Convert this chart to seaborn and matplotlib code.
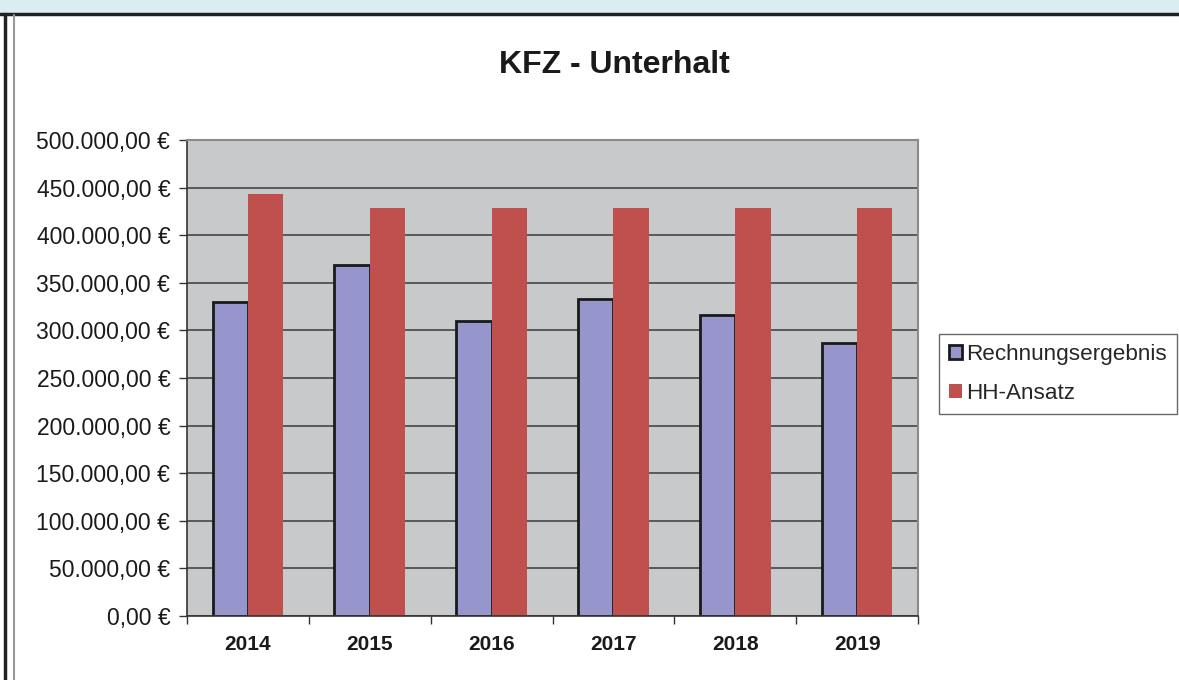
import pandas as pd
import numpy as np
import seaborn as sns
import matplotlib.pyplot as plt
from matplotlib.lines import Line2D
from matplotlib.patches import Rectangle, Patch
from matplotlib.ticker import FuncFormatter

# Data
years = ['2014', '2015', '2016', '2017', '2018', '2019']
rechnungsergebnis = [330000, 369000, 310000, 333000, 316000, 287000]
hh_ansatz = [443000, 428500, 428500, 428500, 428500, 428500]
series_names = ['Rechnungsergebnis', 'HH-Ansatz']

blue = '#9696CC'
red = '#C0504D'

df = pd.DataFrame({
    'Jahr': years * 2,
    'Wert': rechnungsergebnis + hh_ansatz,
    'Reihe': [series_names[0]] * len(years) + [series_names[1]] * len(years),
})

sns.set_style("white")
plt.rcParams['font.family'] = ['Liberation Sans', 'DejaVu Sans']

fig = plt.figure(figsize=(11.79, 6.8), dpi=100)

# Frame decoration (top band and left borders)
fig.patches.append(Rectangle((0, 1 - 13 / 680), 1, 13 / 680, transform=fig.transFigure,
                             facecolor='#DAEDF0', edgecolor='none', zorder=0))
fig.lines.append(Line2D([0, 1], [1 - 14 / 680, 1 - 14 / 680], transform=fig.transFigure,
                        color='#222222', linewidth=2.5))
fig.lines.append(Line2D([5 / 1179, 5 / 1179], [0, 1 - 14 / 680], transform=fig.transFigure,
                        color='#222222', linewidth=2.5))
fig.lines.append(Line2D([14 / 1179, 14 / 1179], [0, 1 - 15 / 680], transform=fig.transFigure,
                        color='#999999', linewidth=1.5))

ax = fig.add_axes([187 / 1179, 1 - 616 / 680, 731 / 1179, 476 / 680])
ax.set_facecolor('#C8C9CB')

sns.barplot(data=df, x='Jahr', y='Wert', hue='Reihe', palette=[blue, red],
            width=0.58, gap=0, ax=ax, legend=False, saturation=1)

# Blue bars get a black outline, red ones none
for bar in ax.containers[0]:
    bar.set_edgecolor('#1a1a1a')
    bar.set_linewidth(2)
for bar in ax.containers[1]:
    bar.set_edgecolor('none')

ax.set_ylim(0, 500000)
ax.set_xlim(-0.5, 5.5)
ax.set_yticks(np.arange(0, 500001, 50000))


def euro(v, pos):
    s = f"{v:,.2f}".replace(',', 'X').replace('.', ',').replace('X', '.')
    return s + " €"


ax.yaxis.set_major_formatter(FuncFormatter(euro))
ax.yaxis.grid(True, color='#3a3a3a', linewidth=1.1)
ax.set_axisbelow(True)

ax.tick_params(axis='y', which='major', left=True, length=6, width=1, color='#333333',
               direction='out', labelsize=16.5, pad=6, labelcolor='#1a1a1a')
ax.tick_params(axis='x', which='major', bottom=False, labelsize=15, pad=10)
for lbl in ax.get_xticklabels():
    lbl.set_fontweight('bold')
    lbl.set_color('#1a1a1a')

# tick marks between categories
ax.set_xticks(np.arange(-0.5, 6, 1), minor=True)
ax.tick_params(axis='x', which='minor', bottom=True, length=6, width=1, color='#333333',
               direction='out')

ax.set_xlabel('')
ax.set_ylabel('')

for side in ['left', 'bottom']:
    ax.spines[side].set_color('#333333')
    ax.spines[side].set_linewidth(1.2)
for side in ['top', 'right']:
    ax.spines[side].set_color('#8a8a8a')
    ax.spines[side].set_linewidth(1.5)

fig.text(614 / 1179, 1 - 65 / 680, 'KFZ - Unterhalt', ha='center', va='center',
         fontsize=23, fontweight='bold', color='#1a1a1a')

handles = [Patch(facecolor=blue, edgecolor='#1a1a1a', linewidth=2),
           Patch(facecolor=red, edgecolor='none')]
leg = fig.legend(handles, series_names, loc='center left',
                 bbox_to_anchor=(939 / 1179, 1 - 374 / 680), fontsize=16.2,
                 frameon=True, fancybox=False, handlelength=0.55, handleheight=0.55,
                 handletextpad=0.2, labelspacing=0.8, borderpad=0.45, borderaxespad=0)
leg.get_frame().set_edgecolor('#444444')
leg.get_frame().set_linewidth(1)

fig.savefig('out.png', dpi=100)
